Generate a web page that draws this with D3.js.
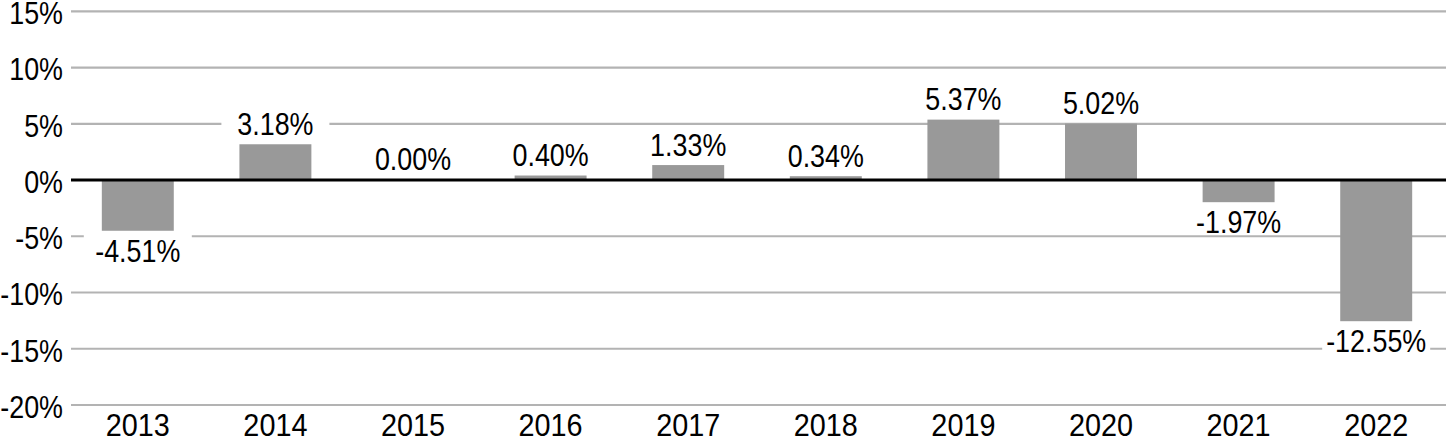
<!DOCTYPE html>
<html><head><meta charset="utf-8">
<script src="https://cdn.jsdelivr.net/npm/d3@7"></script>
<style>
body{margin:0;background:#fff;}
text{font-family:"Liberation Sans",Arial,sans-serif;}
</style></head>
<body>
<svg id="c" width="1446" height="442"></svg>
<script>
const years = ["2013","2014","2015","2016","2017","2018","2019","2020","2021","2022"];
const returns = [-4.51, 3.18, 0.00, 0.40, 1.33, 0.34, 5.37, 5.02, -1.97, -12.55];
const yTicks = [15, 10, 5, 0, -5, -10, -15, -20];

const FS = 32;          // font size
const PCT_SX = 0.84;    // horizontal condensing for % strings
const YEAR_SX = 0.9;    // horizontal condensing for year strings
const CAPH = FS * 0.716;

const svg = d3.select("#c");
const x = d3.scaleBand().domain(years).range([69, 1445]).paddingInner(0.477).paddingOuter(0.2385);
const y = d3.scaleLinear().domain([-20, 15]).range([405, 11.3]);

function condText(g, cx, cyCenter, str, sx, anchor) {
  return g.append("text")
    .attr("transform", `translate(${cx},${cyCenter + CAPH / 2}) scale(${sx},1)`)
    .attr("text-anchor", anchor).attr("font-size", FS).attr("fill", "#000")
    .text(str);
}

// gridlines
svg.append("g").selectAll("line").data(yTicks.filter(d => d !== 0)).join("line")
  .attr("x1", 71).attr("x2", 1446)
  .attr("y1", d => y(d)).attr("y2", d => y(d))
  .attr("stroke", "#b3b3b3").attr("stroke-width", 2.2);

// y labels
const yg = svg.append("g");
yTicks.forEach(d => condText(yg, 63, y(d) + 1.5, d + "%", PCT_SX, "end"));

// x labels
const xg = svg.append("g");
years.forEach(d => condText(xg, x(d) + x.bandwidth() / 2, 425, d, YEAR_SX, "middle"));

// bars
svg.append("g").selectAll("rect").data(years).join("rect")
  .attr("x", d => x(d)).attr("width", x.bandwidth())
  .attr("y", (d, i) => y(Math.max(0, returns[i])))
  .attr("height", (d, i) => Math.abs(y(returns[i]) - y(0)))
  .attr("fill", "#999999");

// zero line
svg.append("line").attr("x1", 71).attr("x2", 1446).attr("y1", y(0)).attr("y2", y(0))
  .attr("stroke", "#000").attr("stroke-width", 3);

// value labels with white boxes
const lg = svg.append("g");
years.forEach((d, i) => {
  const v = returns[i];
  const cx = x(d) + x.bandwidth() / 2;
  const cy = v >= 0 ? y(v) - 21 : y(v) + 19.5;
  const g = lg.append("g");
  const r = g.append("rect").attr("fill", "#fff");
  const t = condText(g, cx, cy, v.toFixed(2) + "%", PCT_SX, "middle");
  const w = Math.max(108, t.node().getBBox().width * PCT_SX + 6);
  r.attr("x", cx - w / 2).attr("y", cy - 16).attr("width", w).attr("height", 28);
});
</script>
</body></html>
